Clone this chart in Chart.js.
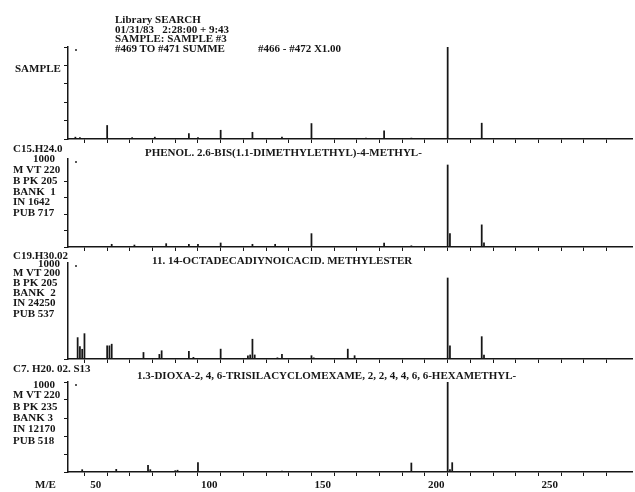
<!DOCTYPE html>
<html>
<head>
<meta charset="utf-8">
<script src="https://cdn.jsdelivr.net/npm/chart.js@4.4.0/dist/chart.umd.min.js"></script>
<style>
  html, body { margin: 0; padding: 0; background: #fff; overflow: hidden; }
  #page { position: relative; width: 635px; height: 492px; }
  canvas { position: absolute; }
  .t { position: absolute; font-family: "Liberation Serif", "DejaVu Serif", serif; font-weight: bold;
       font-size: 11px; line-height: 11px; color: #161616; white-space: pre; }
  .dot { position: absolute; width: 2px; height: 2px; background: #222; border-radius: 1px; }
</style>
</head>
<body>
<div id="page"></div>
<script>
// m/e values and intensities (per 1000)
const sampleMz  = [41, 43, 55, 66, 76, 91, 95, 105, 119, 132, 145, 169, 177, 189, 205, 220];
const sampleInt = [20, 15, 147, 15, 20, 59, 15, 95, 73, 22, 168, 10, 88, 10, 1000, 172];

const bank1Mz  = [57, 67, 81, 91, 95, 105, 119, 129, 145, 177, 189, 205, 206, 220, 221];
const bank1Int = [33, 24, 41, 33, 33, 49, 33, 33, 163, 49, 15, 1000, 165, 270, 50];

const bank2Mz  = [42, 43, 44, 45, 55, 56, 57, 71, 78, 79, 91, 93, 105, 117, 118, 119, 120, 130, 132, 145, 146, 161, 164, 205, 206, 220, 221];
const bank2Int = [264, 154, 120, 313, 163, 163, 183, 81, 57, 102, 94, 20, 122, 40, 50, 244, 50, 15, 57, 41, 15, 122, 41, 1000, 163, 276, 49];

const bank3Mz  = [44, 59, 73, 74, 85, 86, 95, 132, 189, 205, 206, 207];
const bank3Int = [26, 30, 74, 26, 15, 20, 104, 10, 100, 1000, 26, 104];

const xTickLabels = [50, 100, 150, 200, 250];

const panels = [
  { mz: sampleMz, ints: sampleInt, top: 47,  bottom: 139, yMax: 1000 },
  { mz: bank1Mz,  ints: bank1Int,  top: 159, bottom: 247, yMax: 1073 },
  { mz: bank2Mz,  ints: bank2Int,  top: 263, bottom: 359, yMax: 1185 },
  { mz: bank3Mz,  ints: bank3Int,  top: 382, bottom: 472, yMax: 1000, last: true }
];

const page = document.getElementById('page');
const ink = '#161616';

panels.forEach(p => {
  const axisH = p.last ? 22 : 6;
  const cv = document.createElement('canvas');
  cv.width = 577;
  cv.height = (p.bottom - p.top) + axisH + 2;
  cv.style.left = '58px';
  cv.style.top = (p.top - 2) + 'px';
  page.appendChild(cv);

  new Chart(cv, {
    type: 'bar',
    data: {
      datasets: [{
        data: p.mz.map((m, i) => ({ x: m, y: p.ints[i] })),
        backgroundColor: ink,
        barThickness: 1.1
      }]
    },
    options: {
      responsive: false,
      animation: false,
      layout: { padding: { top: 2, right: 3, left: 0, bottom: 0 } },
      plugins: { legend: { display: false }, tooltip: { enabled: false } },
      scales: {
        x: {
          type: 'linear', min: 37.75, max: 286.2, offset: false,
          ticks: {
            display: !!p.last, stepSize: 10, autoSkip: false, maxRotation: 0, padding: 3,
            color: ink, font: { family: 'Liberation Serif', weight: 'bold', size: 11 },
            callback: v => xTickLabels.includes(v) ? v : ''
          },
          grid: { drawOnChartArea: false, tickLength: 4, color: ink, lineWidth: 1 },
          border: { color: ink, width: 1.5 },
          afterBuildTicks: s => { s.ticks = s.ticks.filter(t => Math.abs(t.value % 10) < 1e-6); },
          afterFit: s => { s.height = axisH; }
        },
        y: {
          min: 0, max: p.yMax,
          ticks: { display: false, stepSize: 200 },
          grid: { drawOnChartArea: false, tickLength: 4, color: ink, lineWidth: 1 },
          border: { color: ink, width: 1.5 },
          afterBuildTicks: s => { s.ticks = s.ticks.filter(t => Math.abs(t.value % 200) < 1e-6); },
          afterFit: s => { s.width = 10; }
        }
      }
    }
  });

  const dot = document.createElement('div');
  dot.className = 'dot';
  dot.style.left = '75px';
  dot.style.top = (p.top + 2) + 'px';
  page.appendChild(dot);
});

// text blocks: [text, left, centerY]
const texts = [
  ['Library SEARCH', 115, 20],
  ['01/31/83   2:28:00 + 9:43', 115, 29.5],
  ['SAMPLE: SAMPLE #3', 115, 39],
  ['#469 TO #471 SUMME', 115, 48.5],
  ['#466 - #472 X1.00', 258, 48.5],
  ['SAMPLE', 15, 68.5],

  ['C15.H24.0', 13, 148.5],
  ['1000', 33, 159],
  ['M VT 220', 13, 170],
  ['B PK 205', 13, 181],
  ['BANK  1', 13, 191.5],
  ['IN 1642', 13, 202],
  ['PUB 717', 13, 212.5],
  ['PHENOL. 2.6-BIS(1.1-DIMETHYLETHYL)-4-METHYL-', 145, 153],

  ['C19.H30.02', 13, 256],
  ['1000', 38, 264],
  ['M VT 200', 13, 272.5],
  ['B PK 205', 13, 282.5],
  ['BANK  2', 13, 292.5],
  ['IN 24250', 13, 303],
  ['PUB 537', 13, 313.5],
  ['11. 14-OCTADECADIYNOICACID. METHYLESTER', 152, 261],

  ['C7. H20. 02. S13', 13, 369],
  ['1000', 33, 385],
  ['M VT 220', 13, 395],
  ['B PK 235', 13, 406.5],
  ['BANK 3', 13, 417.5],
  ['IN 12170', 13, 429],
  ['PUB 518', 13, 441],
  ['1.3-DIOXA-2, 4, 6-TRISILACYCLOMEXAME, 2, 2, 4, 4, 6, 6-HEXAMETHYL-', 137, 376],

  ['M/E', 35, 485]
];

texts.forEach(([s, x, cy]) => {
  const d = document.createElement('div');
  d.className = 't';
  d.textContent = s;
  d.style.left = x + 'px';
  d.style.top = (cy - 6) + 'px';
  page.appendChild(d);
});
</script>
</body>
</html>
